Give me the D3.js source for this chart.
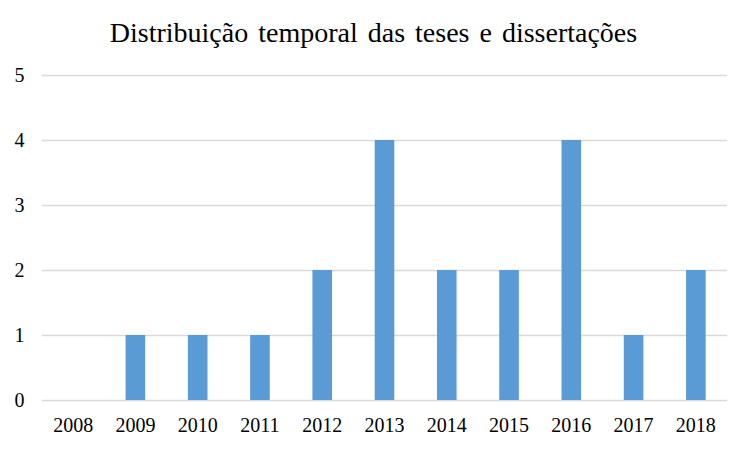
<!DOCTYPE html>
<html><head><meta charset="utf-8">
<script src="https://cdn.jsdelivr.net/npm/d3@7"></script>
<style>body{margin:0;background:#fff}</style>
</head><body>
<svg id="c" width="750" height="450"></svg>
<script>
const title = "Distribuição temporal das teses e dissertações";
const years = ["2008","2009","2010","2011","2012","2013","2014","2015","2016","2017","2018"];
const counts = [0,1,1,1,2,4,2,2,4,1,2];
const yTicks = [0,1,2,3,4,5];

(function(){
const svg = d3.select("#c");
const mL = 42, mR = 727, mT = 75, mB = 400;
const x = d3.scaleBand().domain(years).range([mL, mR]).paddingInner(0.685).paddingOuter(0.3425);
const y = d3.scaleLinear().domain([0,5]).range([mB, mT]);
const font = "'Liberation Serif','Times New Roman',serif";

svg.append("text").attr("x", 373.5).attr("y", 42).attr("text-anchor","middle")
  .attr("font-family", font).attr("font-size", 28).attr("word-spacing", 3).attr("fill","#000").text(title);

svg.append("g").selectAll("line").data(yTicks).join("line")
  .attr("x1", mL).attr("x2", mR)
  .attr("y1", d => Math.round(y(d))+0.5).attr("y2", d => Math.round(y(d))+0.5)
  .attr("stroke", "#d9d9d9").attr("stroke-width", 1.5);

svg.append("g").selectAll("text").data(yTicks).join("text")
  .attr("x", 19.5).attr("y", d => y(d)).attr("dy","0.34em").attr("text-anchor","middle")
  .attr("font-family", font).attr("font-size", 20).attr("fill","#000").text(d => d);

svg.append("g").selectAll("rect").data(years).join("rect")
  .attr("x", (d) => x(d)).attr("width", x.bandwidth())
  .attr("y", (d,i) => y(counts[i])).attr("height", (d,i) => y(0) - y(counts[i]))
  .attr("fill", "#5B9BD5");

svg.append("g").selectAll("text").data(years).join("text")
  .attr("x", d => x(d) + x.bandwidth()/2).attr("y", 432).attr("text-anchor","middle")
  .attr("font-family", font).attr("font-size", 20).attr("fill","#000").text(d => d);
})();
</script>
</body></html>
